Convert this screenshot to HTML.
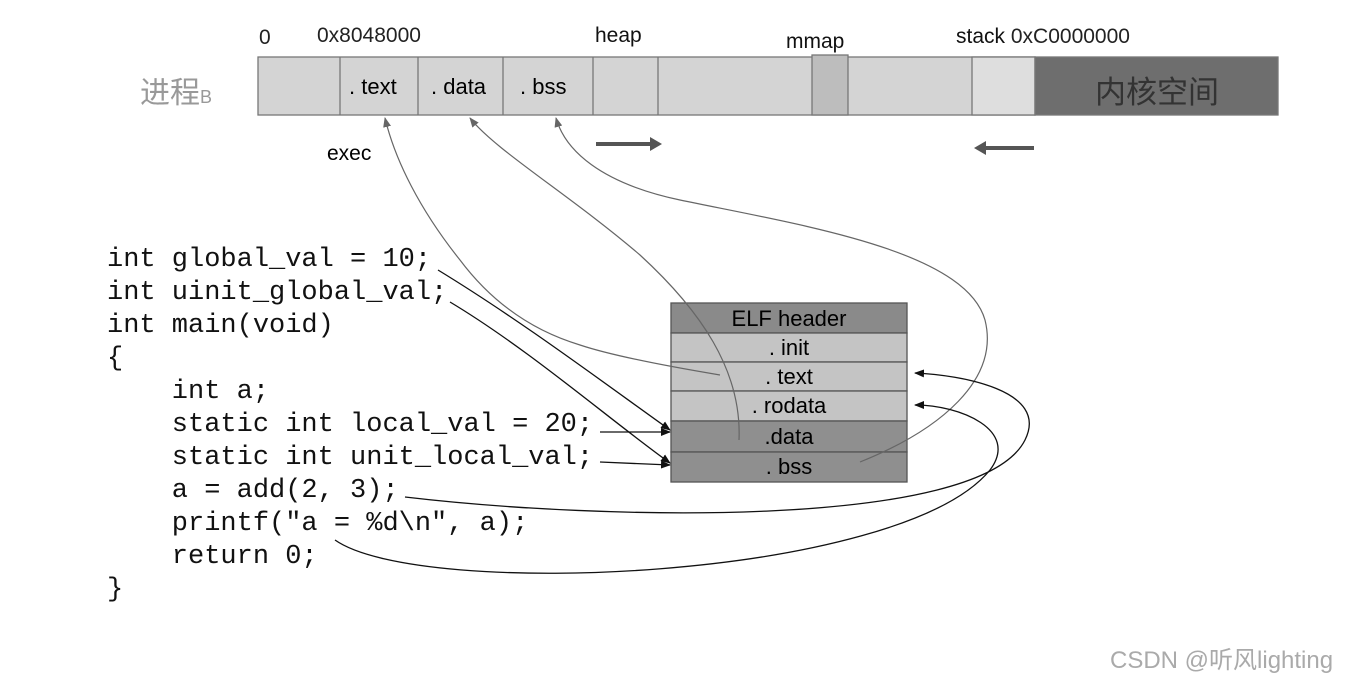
<!DOCTYPE html>
<html><head><meta charset="utf-8"><style>
body{margin:0;width:1352px;height:678px;background:#fff;position:relative;overflow:hidden;font-family:"Liberation Sans","Noto Sans CJK SC",sans-serif}
.a{position:absolute}
.code{position:absolute;left:107px;font-family:"Liberation Mono","Noto Serif CJK SC",monospace;font-size:27px;line-height:33px;white-space:pre;color:#111;top:244px}
</style></head><body>
<svg class="a" style="left:0;top:0" width="1352" height="678">
<defs>
<marker id="b" markerWidth="10" markerHeight="8" refX="9" refY="4" orient="auto" markerUnits="userSpaceOnUse"><path d="M0,0 L10,4 L0,8 Z" fill="#111"/></marker>
<marker id="g" markerWidth="10" markerHeight="8" refX="9" refY="4" orient="auto" markerUnits="userSpaceOnUse"><path d="M0,0 L10,4 L0,8 Z" fill="#666"/></marker>
</defs>
<g stroke="#777" stroke-width="1.3">
<rect x="258" y="57" width="777" height="58" fill="#d4d4d4"/>
<rect x="972" y="57" width="63" height="58" fill="#dedede"/>
<rect x="812" y="55" width="36" height="60" fill="#bdbdbd"/>
<rect x="1035" y="57" width="243" height="58" fill="#6e6e6e"/>
<line x1="340" y1="57" x2="340" y2="115"/><line x1="418" y1="57" x2="418" y2="115"/>
<line x1="503" y1="57" x2="503" y2="115"/><line x1="593" y1="57" x2="593" y2="115"/>
<line x1="658" y1="57" x2="658" y2="115"/>
</g>
<g stroke="#555" stroke-width="1.3">
<rect x="671" y="303" width="236" height="30" fill="#8a8a8a"/>
<rect x="671" y="333" width="236" height="29" fill="#c4c4c4"/>
<rect x="671" y="362" width="236" height="29" fill="#c4c4c4"/>
<rect x="671" y="391" width="236" height="30" fill="#c4c4c4"/>
<rect x="671" y="421" width="236" height="31" fill="#8f8f8f"/>
<rect x="671" y="452" width="236" height="30" fill="#8f8f8f"/>
</g>
<line x1="596" y1="144" x2="652" y2="144" stroke="#555" stroke-width="4"/><path d="M650,137 L662,144 L650,151Z" fill="#555"/>
<line x1="984" y1="148" x2="1034" y2="148" stroke="#555" stroke-width="4"/><path d="M986,141 L974,148 L986,155Z" fill="#555"/>
<g fill="none" stroke="#666" stroke-width="1.2">
<path d="M720,375 C660,365 610,355 580,345 C530,330 490,300 460,260 C420,210 395,160 385,118" marker-end="url(#g)"/>
<path d="M739,440 C742,370 700,310 640,255 C570,195 495,150 470,118" marker-end="url(#g)"/>
<path d="M860,462 C940,430 1000,380 985,320 C965,250 800,225 680,200 C600,183 565,150 556,118" marker-end="url(#g)"/>
</g>
<g fill="none" stroke="#111" stroke-width="1.3">
<path d="M438,270 C520,320 600,380 670,430" marker-end="url(#b)"/>
<path d="M450,302 C530,350 610,420 670,463" marker-end="url(#b)"/>
<path d="M600,432 L670,432" marker-end="url(#b)"/>
<path d="M600,462 L670,465" marker-end="url(#b)"/>
<path d="M405,497 C600,520 980,530 1025,440 C1050,390 960,375 915,373" marker-end="url(#b)"/>
<path d="M335,540 C420,600 900,580 990,470 C1020,430 960,405 915,405" marker-end="url(#b)"/>
</g>
</svg>
<div class="a" style="left:140px;top:68px;font-size:30px;color:#999">进程<span style="font-size:18px">B</span></div>
<div class="a" style="left:259px;top:26px;font-size:21px;color:#222">0</div>
<div class="a" style="left:317px;top:24px;font-size:21px;color:#222">0x8048000</div>
<div class="a" style="left:595px;top:24px;font-size:21px;color:#111">heap</div>
<div class="a" style="left:786px;top:30px;font-size:21px;color:#111">mmap</div>
<div class="a" style="left:956px;top:25px;font-size:21px;color:#111">stack <span style="color:#222">0xC0000000</span></div>
<div class="a" style="left:349px;top:74px;font-size:22px">. text</div>
<div class="a" style="left:431px;top:74px;font-size:22px">. data</div>
<div class="a" style="left:520px;top:74px;font-size:22px">. bss</div>
<div class="a" style="left:1095px;top:67px;font-size:31px;color:#333">内核空间</div>
<div class="a" style="left:327px;top:142px;font-size:21px">exec</div>
<div class="a" style="left:671px;top:305px;width:236px;text-align:center;font-size:22px;line-height:28px">ELF header</div>
<div class="a" style="left:671px;top:334px;width:236px;text-align:center;font-size:22px;line-height:28px">. init</div>
<div class="a" style="left:671px;top:363px;width:236px;text-align:center;font-size:22px;line-height:28px">. text</div>
<div class="a" style="left:671px;top:392px;width:236px;text-align:center;font-size:22px;line-height:28px">. rodata</div>
<div class="a" style="left:671px;top:423px;width:236px;text-align:center;font-size:22px;line-height:28px">.data</div>
<div class="a" style="left:671px;top:453px;width:236px;text-align:center;font-size:22px;line-height:28px">. bss</div>
<div class="code">int global_val = 10;
int uinit_global_val;
int main(void)
{
    int a;
    static int local_val = 20;
    static int unit_local_val;
    a = add(2, 3);
    printf("a = %d\n", a);
    return 0;
}</div>
<div class="a" style="left:1110px;top:640px;font-size:24px;color:#aaa">CSDN @听风lighting</div>
</body></html>
